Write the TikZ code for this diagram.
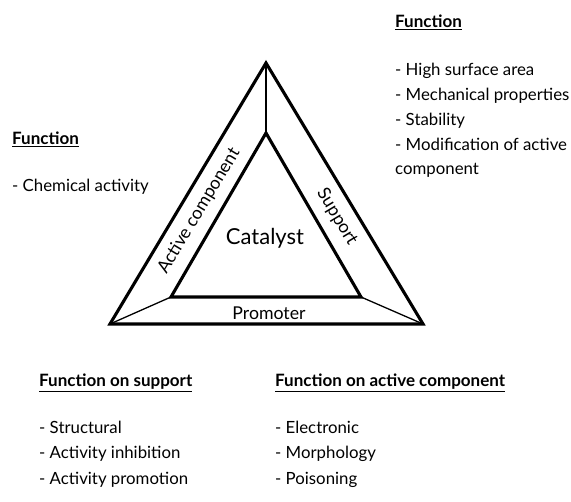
\documentclass[tikz,border=0pt]{standalone}
\usepackage{fontspec}
\setmainfont{Lato}
\usetikzlibrary{positioning}

\begin{document}
\begin{tikzpicture}[
  x=1pt, y=-1pt,
  node distance=8.5pt and 0pt,
  frame/.style={draw, line width=3.1pt, line join=miter},
  link/.style={draw, line width=1.3pt},
  head/.style={inner sep=0pt, text height=12pt, text depth=4pt, font=\fontsize{17}{20}\selectfont\bfseries},
  item/.style={inner sep=0pt, text height=12pt, text depth=4pt, font=\fontsize{16.8}{20}\selectfont},
  side/.style={font=\fontsize{17.8}{20}\selectfont}
]
\useasboundingbox (0,0) rectangle (571,502);

% triangle corners
\coordinate (oa) at (266,63);
\coordinate (ol) at (110,324);
\coordinate (or) at (423,324);
\coordinate (ia) at (266,133);
\coordinate (il) at (171,297);
\coordinate (ir) at (361,297);

\draw[link] (oa) -- (ia);
\draw[link] (ol) -- (il);
\draw[link] (or) -- (ir);
\draw[frame] (oa) -- (ol) -- (or) -- cycle;
\draw[frame] (ia) -- (il) -- (ir) -- cycle;

\node[side, rotate=59] (active) at (199,211) {Active component};
\node[side, rotate=-59] (support) at (337,217) {Support};
\node[font=\fontsize{22}{26}\selectfont] (catalyst) at (265,238) {Catalyst};
\node[font=\fontsize{17.7}{20}\selectfont] (promoter) at (269,313) {Promoter};

% support functions
\node[head, anchor=west] (supfun) at (395,24) {\underline{Function}};
\node[item, below right=31pt and 0pt of supfun.south west] (sup1) {- High surface area};
\node[item, below right=of sup1.south west] (sup2) {- Mechanical properties};
\node[item, below right=of sup2.south west] (sup3) {- Stability};
\node[item, below right=of sup3.south west] (sup4) {- Modification of active};
\node[item, below right=of sup4.south west] (sup5) {component};

% active component functions
\node[head, anchor=west] (actfun) at (12,141) {\underline{Function}};
\node[item, below right=30pt and 0pt of actfun.south west] (act1) {- Chemical activity};

% promoter functions
\node[head, anchor=west] (prosup) at (39,383) {\underline{Function on support}};
\node[item, below right=30pt and 0pt of prosup.south west] (ps1) {- Structural};
\node[item, below right=9pt and 0pt of ps1.south west] (ps2) {- Activity inhibition};
\node[item, below right=9pt and 0pt of ps2.south west] (ps3) {- Activity promotion};

\node[head, anchor=west] (proact) at (275,383) {\underline{Function on active component}};
\node[item, below right=30pt and 0pt of proact.south west] (pa1) {- Electronic};
\node[item, below right=9pt and 0pt of pa1.south west] (pa2) {- Morphology};
\node[item, below right=9pt and 0pt of pa2.south west] (pa3) {- Poisoning};
\end{tikzpicture}
\end{document}
